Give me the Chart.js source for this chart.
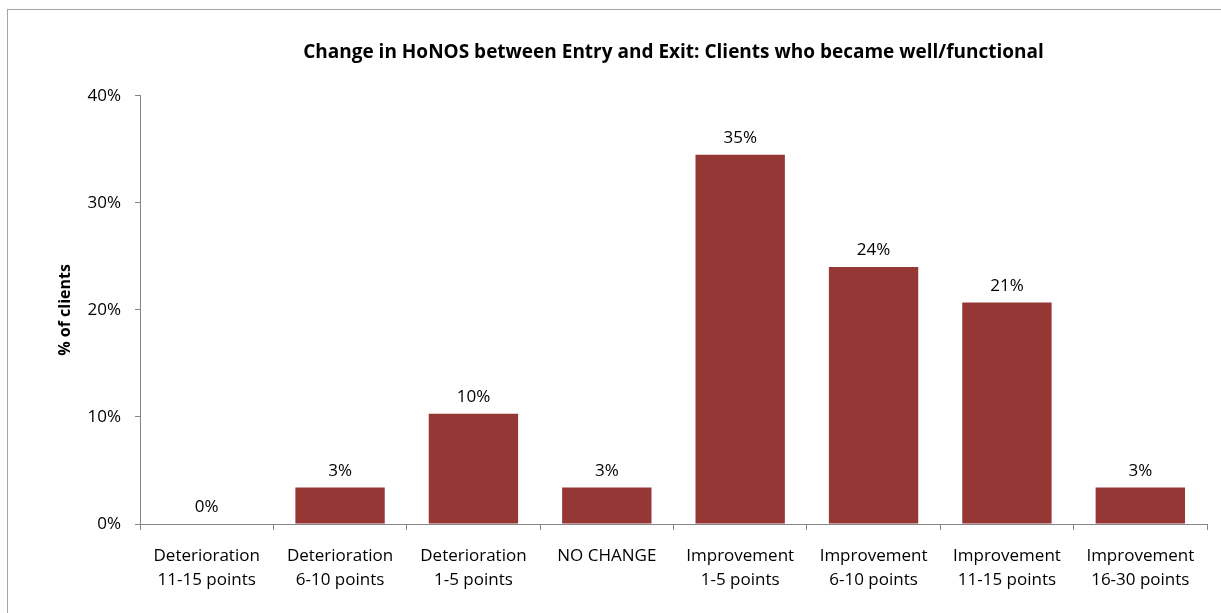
<!DOCTYPE html>
<html>
<head>
<meta charset="utf-8">
<script src="https://cdn.jsdelivr.net/npm/chart.js@4/dist/chart.umd.min.js"></script>
<style>
  html, body { margin: 0; padding: 0; background: #fff; }
  #wrap { position: relative; width: 1221px; height: 613px; overflow: hidden; }
  #frame { position: absolute; left: 7px; top: 9px; width: 1300px; height: 700px; border: 1px solid #a6a6a6; }
  #chart { position: absolute; left: 0; top: 0; }
</style>
</head>
<body>
<div id="wrap">
  <div id="frame"></div>
  <canvas id="chart" width="1221" height="613"></canvas>
</div>
<script>
const categories = [
  ['Deterioration', '11-15 points'],
  ['Deterioration', '6-10 points'],
  ['Deterioration', '1-5 points'],
  'NO CHANGE',
  ['Improvement', '1-5 points'],
  ['Improvement', '6-10 points'],
  ['Improvement', '11-15 points'],
  ['Improvement', '16-30 points']
];
const pctClients = [0, 3.4, 10.3, 3.4, 34.5, 24.0, 20.7, 3.4];
const yTicks = [0, 10, 20, 30, 40];

const fontFamily = '"Open Sans", "Noto Sans", sans-serif';
const axisGray = '#868686';

// draws the rounded % value over each bar
const valueLabels = {
  id: 'valueLabels',
  afterDatasetsDraw(chart) {
    const ctx = chart.ctx;
    const meta = chart.getDatasetMeta(0);
    ctx.save();
    ctx.font = '17px ' + fontFamily;
    ctx.fillStyle = '#000';
    ctx.textAlign = 'center';
    ctx.textBaseline = 'bottom';
    meta.data.forEach((bar, i) => {
      ctx.fillText(Math.round(pctClients[i]) + '%', bar.x, bar.y - 8);
    });
    ctx.restore();
  }
};

new Chart(document.getElementById('chart'), {
  type: 'bar',
  data: {
    labels: categories,
    datasets: [{
      data: pctClients,
      backgroundColor: '#953735',
      borderWidth: 0,
      categoryPercentage: 0.67,
      barPercentage: 1.0
    }]
  },
  options: {
    responsive: false,
    animation: false,
    layout: { padding: { left: 50, right: 14, top: 0, bottom: 0 } },
    plugins: {
      legend: { display: false },
      tooltip: { enabled: false },
      title: {
        display: true,
        fullSize: false,
        text: 'Change in HoNOS between Entry and Exit: Clients who became well/functional',
        color: '#000',
        font: { family: fontFamily, size: 19, weight: 'bold' },
        padding: { top: 41, bottom: 32 }
      }
    },
    scales: {
      x: {
        grid: { drawOnChartArea: false, color: axisGray, tickLength: 6, offset: true },
        border: { color: axisGray },
        ticks: {
          color: '#000',
          maxRotation: 0,
          autoSkip: false,
          padding: 14,
          font: { family: fontFamily, size: 17, lineHeight: 1.4 }
        },
        afterFit(scale) { scale.height = 89; }
      },
      y: {
        min: 0,
        max: 40,
        afterBuildTicks(scale) { scale.ticks = yTicks.map(v => ({ value: v })); },
        grid: { drawOnChartArea: false, color: axisGray, tickLength: 5 },
        border: { color: axisGray },
        ticks: {
          color: '#000',
          padding: 14,
          font: { family: fontFamily, size: 17 },
          callback: v => v + '%'
        },
        title: {
          display: true,
          text: '% of clients',
          color: '#000',
          font: { family: fontFamily, size: 16, weight: 'bold' },
          padding: { top: 6, bottom: 0 }
        },
        afterFit(scale) { scale.width = 90; }
      }
    }
  },
  plugins: [valueLabels]
});
</script>
</body>
</html>
